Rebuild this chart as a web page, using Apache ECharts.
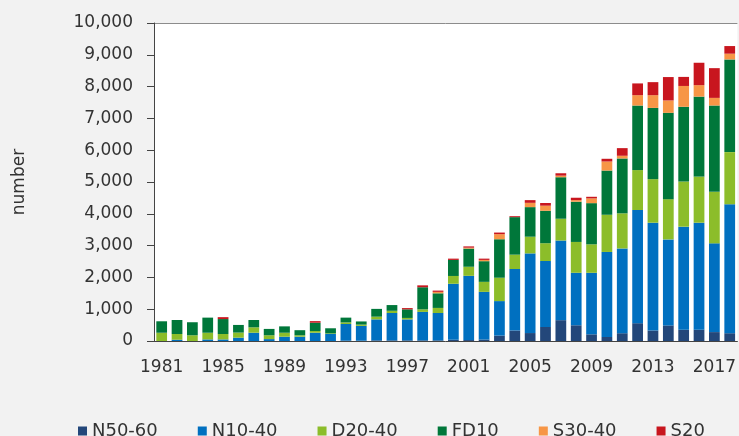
<!DOCTYPE html>
<html>
<head>
<meta charset="utf-8">
<script src="https://cdn.jsdelivr.net/npm/echarts@6/dist/echarts.min.js"></script>
<style>
  html, body { margin: 0; padding: 0; background: #f2f2f2; }
  #chart { width: 739px; height: 436px; }
</style>
</head>
<body>
<div id="chart"></div>
<script>
'use strict';

const years = [];
for (let y = 1981; y <= 2018; y++) years.push(String(y));

const n5060 = [0, 0, 0, 0, 0, 0, 0, 0, 0, 0, 0, 0, 10, 10, 20, 20, 20, 20, 20, 40,
  30, 45, 170, 330, 250, 440, 655, 495, 210, 125, 245, 560, 330, 490, 355, 355, 280, 245];
const n1040 = [0, 40, 0, 50, 50, 105, 260, 60, 135, 135, 260, 220, 525, 465, 660, 860, 660, 895, 860, 1760,
  2020, 1500, 1085, 1935, 2505, 2075, 2505, 1650, 1935, 2675, 2665, 3560, 3390, 2705, 3240, 3365, 2790, 4055];
const d2040 = [260, 180, 180, 210, 170, 160, 170, 120, 125, 45, 55, 20, 50, 40, 85, 70, 45, 80, 160, 245,
  285, 315, 735, 450, 525, 560, 685, 970, 895, 1170, 1105, 1255, 1370, 1265, 1420, 1450, 1620, 1640];
const fd10 = [360, 440, 410, 475, 470, 240, 230, 200, 200, 160, 260, 160, 150, 100, 245, 180, 270, 695, 460, 505,
  570, 650, 1210, 1180, 930, 1020, 1305, 1265, 1295, 1390, 1725, 2030, 2240, 2715, 2350, 2515, 2715, 2915];
const s3040 = [0, 0, 0, 0, 0, 0, 0, 0, 0, 0, 0, 0, 0, 0, 0, 0, 0, 0, 45, 0,
  30, 40, 160, 0, 135, 160, 50, 50, 150, 285, 85, 325, 400, 390, 655, 360, 240, 180];
const s20 = [0, 0, 0, 0, 60, 0, 0, 0, 0, 0, 50, 0, 0, 0, 0, 0, 40, 60, 40, 40,
  40, 40, 50, 30, 85, 85, 75, 75, 50, 85, 240, 370, 410, 735, 285, 705, 935, 240];

const seriesNames = ['N50-60', 'N10-40', 'D20-40', 'FD10', 'S30-40', 'S20'];
const seriesData = [n5060, n1040, d2040, fd10, s3040, s20];
const colors = ['#23477a', '#0070c0', '#8cbd2a', '#00773a', '#f79646', '#c8161e'];

const font = 'DejaVu Sans';

// only the top line of the plot area is drawn
const splitColors = [];
for (let i = 0; i < 10; i++) splitColors.push('rgba(0,0,0,0)');
splitColors.push('#8c8c8c');

const chart = echarts.init(document.getElementById('chart'));
chart.setOption({
  backgroundColor: '#f2f2f2',
  animation: false,
  color: colors,
  grid: {
    left: 154,
    right: 1,
    top: 23,
    bottom: 95,
    show: true,
    backgroundColor: '#ffffff',
    borderWidth: 0
  },
  legend: {
    data: seriesNames,
    left: 73,
    top: 417,
    itemWidth: 9,
    itemHeight: 9,
    itemGap: 40,
    icon: 'rect',
    textStyle: { fontFamily: font, fontSize: 18, color: '#333', lineHeight: 18 }
  },
  xAxis: {
    type: 'category',
    data: years,
    axisLine: { lineStyle: { color: '#444', width: 1 } },
    axisTick: { interval: 0, length: 5, lineStyle: { color: '#444' } },
    axisLabel: {
      interval: 3,
      margin: 18,
      fontFamily: font,
      fontSize: 17,
      color: '#333'
    }
  },
  yAxis: {
    type: 'value',
    min: 0,
    max: 10000,
    interval: 1000,
    name: 'number',
    nameLocation: 'middle',
    nameGap: 126,
    nameTextStyle: { fontFamily: font, fontSize: 17, color: '#333' },
    axisLine: { show: true, lineStyle: { color: '#444', width: 1 } },
    axisTick: { show: true, length: 7, lineStyle: { color: '#444' } },
    axisLabel: {
      margin: 21,
      fontFamily: font,
      fontSize: 17,
      color: '#333',
      formatter: v => v.toLocaleString('en-US')
    },
    splitLine: { show: true, lineStyle: { color: splitColors, width: 1 } }
  },
  series: seriesNames.map((name, i) => ({
    name: name,
    type: 'bar',
    stack: 'total',
    barCategoryGap: '30%',
    data: seriesData[i]
  }))
});
</script>
</body>
</html>
